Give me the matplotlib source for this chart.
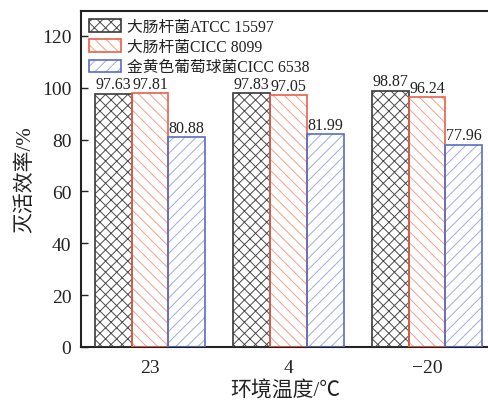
import matplotlib
matplotlib.use("Agg")
import matplotlib.pyplot as plt
import numpy as np
from matplotlib.patches import Patch
from matplotlib.legend_handler import HandlerTuple

plt.rcParams['font.family'] = ['Liberation Serif', 'Noto Sans CJK SC']
plt.rcParams['hatch.linewidth'] = 0.7
plt.rcParams['axes.unicode_minus'] = True

categories = ['23', '4', '\u221220']
series_names = ['大肠杆菌ATCC 15597', '大肠杆菌CICC 8099', '金黄色葡萄球菌CICC 6538']
ecoli_atcc = [97.63, 97.83, 98.87]
ecoli_cicc = [97.81, 97.05, 96.24]
saureus_cicc = [80.88, 81.99, 77.96]
series_values = [ecoli_atcc, ecoli_cicc, saureus_cicc]

edge_colors = ['#3a3a3a', '#e8604a', '#5a6cc4']
hatch_colors = ['#4a4a4a', '#f3a08c', '#9eaae0']
hatches = ['xxx', '\\\\\\', '///']

fig = plt.figure(figsize=(4.89, 4.02), dpi=100)
ax = fig.add_axes([81 / 489, 54 / 402, 408 / 489, 336 / 402])

x = np.arange(len(categories))
width = 0.265
handles = []
for i, (vals, ec, hc, h) in enumerate(zip(series_values, edge_colors, hatch_colors, hatches)):
    pos = x + (i - 1) * width
    ax.bar(pos, vals, width, facecolor='white', edgecolor=hc, hatch=h, linewidth=0, zorder=2)
    ax.bar(pos, vals, width, fill=False, edgecolor=ec, linewidth=1.2, zorder=3)
    for px, v in zip(pos, vals):
        ax.annotate(f'{v:.2f}', (px, v), xytext=(0, 1), textcoords='offset points',
                    ha='center', va='bottom', fontsize=11.5, color='#222222')
    hp = Patch(facecolor='white', edgecolor=hc, hatch=h, linewidth=0)
    op = Patch(fill=False, edgecolor=ec, linewidth=1.2)
    handles.append((hp, op))

ax.set_xlim(-0.498, 2.448)
ax.set_ylim(0, 129.6)
ax.set_yticks([0, 20, 40, 60, 80, 100, 120])
ax.set_xticks(x)
ax.set_xticklabels(categories)
ax.tick_params(axis='both', direction='in', length=5, width=1, labelsize=14,
               colors='#222222')
ax.tick_params(axis='y', pad=7)
ax.tick_params(axis='x', pad=9)
for s in ['left', 'bottom', 'top']:
    ax.spines[s].set_linewidth(1.5)
    ax.spines[s].set_color('#222222')
ax.spines['right'].set_visible(False)

ax.set_xlabel('环境温度/℃', fontsize=15, color='#222222', labelpad=3)
ax.set_ylabel('灭活效率/%', fontsize=15, color='#222222', labelpad=5)

leg = ax.legend(handles, series_names, handler_map={tuple: HandlerTuple(ndivide=1)},
                loc='upper left', bbox_to_anchor=(0.0, 1.0), frameon=False,
                fontsize=11.3, handlelength=2.05, handleheight=0.85,
                handletextpad=0.35, labelspacing=0.27, borderaxespad=0.3,
                borderpad=0.2)
for t in leg.get_texts():
    t.set_color('#222222')

fig.savefig('out.png', dpi=100)
